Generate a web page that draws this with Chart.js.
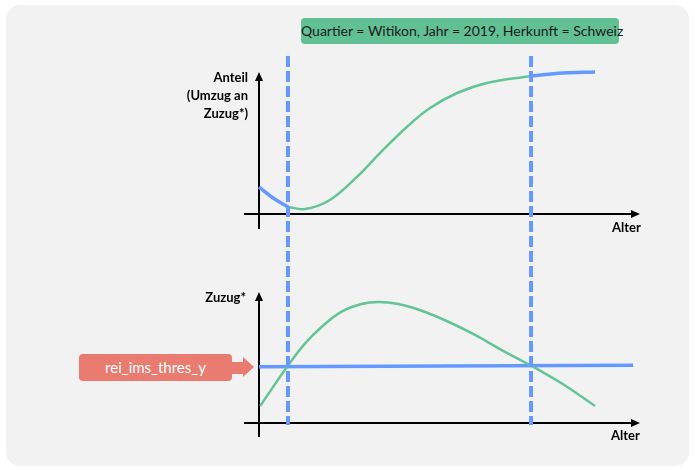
<!DOCTYPE html>
<html><head><meta charset="utf-8">
<script src="https://cdn.jsdelivr.net/npm/chart.js@4"></script>
<style>
html,body{margin:0;padding:0;background:#fff;}
#wrap{position:relative;width:695px;height:470px;overflow:hidden;font-family:Lato,'Open Sans',sans-serif;}
#panel{position:absolute;left:6px;top:5px;width:683px;height:461px;background:#f2f2f2;border-radius:14px;}
canvas{position:absolute;left:0;}
.lbl{position:absolute;font-weight:bold;font-size:13px;color:#000;line-height:18px;white-space:nowrap;}
#title{position:absolute;left:301px;top:18px;width:318px;height:26px;background:#62c095;border-radius:4px;color:#1a1a1a;font-size:14px;line-height:26px;text-align:center;white-space:nowrap;}
#callout{position:absolute;left:79px;top:354px;width:153px;height:27px;background:#e97b71;border-radius:4px;color:#fff;font-size:15px;line-height:27px;text-align:center;white-space:nowrap;}
#shaft{position:absolute;left:231px;top:362px;width:13px;height:12px;background:#e97b71;}
#head{position:absolute;left:243px;top:357px;width:0;height:0;border-top:10px solid transparent;border-bottom:10px solid transparent;border-left:11px solid #e97b71;}
</style>
</head><body>
<div id="wrap">
  <div id="panel"></div>
  <div id="title">Quartier = Witikon, Jahr = 2019, Herkunft = Schweiz</div>
  <canvas id="chart" width="695" height="470" style="top:0;"></canvas>
  <div class="lbl" style="right:447px;top:68px;text-align:right;">Anteil<br>(Umzug an<br>Zuzug*)</div>
  <div class="lbl" style="left:612px;top:218px;">Alter</div>
  <div class="lbl" style="right:449px;top:288px;text-align:right;">Zuzug*</div>
  <div class="lbl" style="left:611px;top:426px;">Alter</div>
  <div id="callout">rei_ims_thres_y</div>
  <div id="shaft"></div>
  <div id="head"></div>
</div>
<script>
// Alter thresholds (dashed vertical lines)
const thresholdAlter = [7.6, 71.4];

// Top panel: Anteil (Umzug an Zuzug*)
const anteilLowX  = [0, 3.7, 7.6];
const anteilLowY  = [0.19, 0.113, 0.05];
const anteilMidX  = [7.6, 12.1, 18.6, 25.7, 31.8, 38.8, 44.9, 52.0, 59.8, 71.4];
const anteilMidY  = [0.05, 0.035, 0.099, 0.261, 0.43, 0.613, 0.746, 0.852, 0.923, 0.972];
const anteilHighX = [71.4, 79.8, 88.2];
const anteilHighY = [0.972, 0.993, 1.0];

// Bottom panel: Zuzug*
const zuzugX = [0.3, 7.7, 12.1, 16.5, 21.7, 26.9, 31.3, 36.6, 42.7, 49.7, 56.7, 63.7, 71.6, 79.4, 88.2];
const zuzugY = [0.13, 0.443, 0.608, 0.735, 0.85, 0.908, 0.924, 0.908, 0.857, 0.773, 0.672, 0.557, 0.435, 0.303, 0.13];

// rei_ims_thres_y line
const thresYX = [0, 98.2];
const thresYY = [0.43, 0.44];

const BLUE = '#6699ff', GREEN = '#63c497';
const pts = (xs, ys) => xs.map((v, i) => ({x: v, y: ys[i]}));

function drawAxes(ctx, x, y, below) {
  const x0 = x.getPixelForValue(0), y0 = y.getPixelForValue(0);
  const xEnd = x.getPixelForValue(x.max), yTop = y.getPixelForValue(1);
  ctx.beginPath(); ctx.moveTo(x0, y0 + below); ctx.lineTo(x0, yTop + 6); ctx.stroke();
  ctx.beginPath(); ctx.moveTo(x0 - 15, y0); ctx.lineTo(xEnd - 6, y0); ctx.stroke();
  ctx.beginPath(); ctx.moveTo(x0, yTop); ctx.lineTo(x0 - 4, yTop + 9); ctx.lineTo(x0 + 4, yTop + 9); ctx.closePath(); ctx.fill();
  ctx.beginPath(); ctx.moveTo(xEnd, y0); ctx.lineTo(xEnd - 9, y0 - 4); ctx.lineTo(xEnd - 9, y0 + 4); ctx.closePath(); ctx.fill();
}

const schematic = {
  id: 'schematic',
  beforeDatasetsDraw(chart) {
    const {ctx, scales} = chart;
    ctx.save();
    ctx.strokeStyle = '#000'; ctx.fillStyle = '#000'; ctx.lineWidth = 2;
    drawAxes(ctx, scales.x, scales.y1, 15);
    drawAxes(ctx, scales.x, scales.y2, 14);
    ctx.restore();
  },
  afterDatasetsDraw(chart) {
    const {ctx, scales: {x}} = chart;
    ctx.save();
    ctx.strokeStyle = BLUE; ctx.lineWidth = 4; ctx.setLineDash([11, 4]);
    thresholdAlter.forEach(v => {
      const px = x.getPixelForValue(v);
      ctx.beginPath(); ctx.moveTo(px, 56); ctx.lineTo(px, 425); ctx.stroke();
    });
    ctx.restore();
  }
};

const lineDs = (data, color, w, axis) => ({data, yAxisID: axis, showLine: true, borderColor: color, borderWidth: w,
  tension: 0.4, pointRadius: 0, clip: false, fill: false});

new Chart(document.getElementById('chart'), {
  type: 'scatter',
  data: {datasets: [
    lineDs(pts(anteilMidX, anteilMidY), GREEN, 2.5, 'y1'),
    lineDs(pts(anteilLowX, anteilLowY), BLUE, 3.5, 'y1'),
    lineDs(pts(anteilHighX, anteilHighY), BLUE, 3.5, 'y1'),
    lineDs(pts(zuzugX, zuzugY), GREEN, 2.5, 'y2'),
    lineDs(pts(thresYX, thresYY), BLUE, 3.5, 'y2')
  ]},
  options: {
    responsive: false, animation: false, events: [],
    layout: {padding: {left: 259, right: 55, top: 72, bottom: 47}},
    scales: {
      x: {type: 'linear', min: 0, max: 100, display: false},
      // top panel: value 0 at y=214, 1 at y=72; bottom panel: 0 at y=423, 1 at y=292
      y1: {type: 'linear', min: 1 - (423 - 72) / 142, max: 1, display: false},
      y2: {type: 'linear', min: 0, max: (423 - 72) / 131, display: false}
    },
    plugins: {legend: {display: false}, tooltip: {enabled: false}},
    elements: {point: {radius: 0}}
  },
  plugins: [schematic]
});
</script>
</body></html>
